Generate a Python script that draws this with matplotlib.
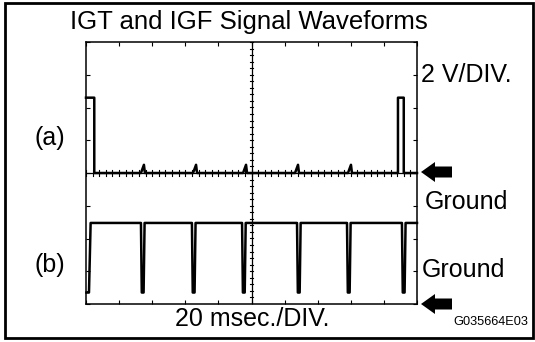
"""IGT / IGF oscilloscope waveform sketch."""

import numpy as np
import matplotlib

matplotlib.use("Agg")
import matplotlib.pyplot as plt
from matplotlib.patches import Rectangle, FancyArrow

plt.rcParams["font.family"] = ["Liberation Sans", "DejaVu Sans"]

W, H = 535, 342

# scope settings: 20 ms/div x 10 div, 2 V/div x 8 div
MS_PER_DIV = 20
V_PER_DIV = 2

# (a) IGT: pulse starts/ends (ms), high level (V), small bumps (ms)
igt_pulse_on = [0.0, 188.5]
igt_pulse_off = [5.0, 192.0]
igt_high = 4.6
igt_bumps = [34.4, 65.9, 96.1, 127.5, 159.5]
igt_bump_h = 0.5

# (b) IGF: dip times (ms), high and low levels (V)
igf_dips = [1.2, 33.2, 64.0, 94.3, 127.5, 157.7, 190.9]
igf_high = 4.95
igf_low = 0.7

# ground positions in divisions (screen is -4..4)
gnd_a = 0.0
gnd_b = -4.0


def igt_trace():
    t, v = [0.0], [igt_high]
    t += [igt_pulse_off[0], igt_pulse_off[0]]
    v += [igt_high, 0.0]
    for b in igt_bumps:
        t += [b - 1.2, b + 0.6, b + 1.2]
        v += [0.0, igt_bump_h, 0.0]
    t += [igt_pulse_on[1], igt_pulse_on[1], igt_pulse_off[1], igt_pulse_off[1], 200.0]
    v += [0.0, igt_high, igt_high, 0.0, 0.0]
    return np.array(t), np.array(v)


def igf_trace():
    t, v = [0.3], [igf_low]
    first = True
    for d in igf_dips:
        if first:
            t += [d, d + 0.6, d + 1.6]
            v += [igf_low, igf_low, igf_high]
            first = False
            continue
        t += [d, d + 0.5, d + 1.6, d + 2.2]
        v += [igf_high, igf_low, igf_low, igf_high]
    t += [200.0]
    v += [igf_high]
    return np.array(t), np.array(v)


fig = plt.figure(figsize=(W / 100, H / 100), dpi=100)
bg = fig.add_axes([0, 0, 1, 1])
bg.set_xlim(0, W)
bg.set_ylim(H, 0)
bg.axis("off")

# outer frame
bg.add_patch(Rectangle((5, 2.5), 528, 335.5, fill=False, lw=2, ec="black"))

# scope screen
x0, y0, x1, y1 = 86, 42, 417, 304
sc = fig.add_axes([x0 / W, 1 - y1 / H, (x1 - x0) / W, (y1 - y0) / H])
sc.set_xlim(0, 10 * MS_PER_DIV)
sc.set_ylim(-4, 4)
for s in sc.spines.values():
    s.set_linewidth(1.1)
sc.set_xticks(np.arange(0, 201, MS_PER_DIV))
sc.set_yticks(np.arange(-4, 5, 1))
sc.tick_params(direction="in", length=3, width=0.8, labelbottom=False,
               labelleft=False, top=True, right=True)
sc.patch.set_alpha(0)

# center graticule with small ticks
sc.axvline(100, color="black", lw=0.9)
sc.axhline(0, color="black", lw=0.9)
for yy in np.arange(-4, 4.01, 0.2):
    sc.plot([98.8, 101.2], [yy, yy], color="black", lw=0.8)
for xx in np.arange(0, 200.1, 4):
    sc.plot([xx, xx], [-0.08, 0.08], color="black", lw=0.8)

ta, va = igt_trace()
sc.plot(ta, gnd_a + va / V_PER_DIV, color="black", lw=1.8, clip_on=False)
tb, vb = igf_trace()
sc.plot(tb, gnd_b + vb / V_PER_DIV, color="black", lw=1.8, clip_on=False)

# ground arrows
for gy in (172, 304):
    bg.add_patch(FancyArrow(452, gy, -31, 0, width=11, head_width=20,
                            head_length=14, length_includes_head=True,
                            fc="black", ec="black", lw=0))

big = 18
bg.text(249, 28.5, "IGT and IGF Signal Waveforms", fontsize=18.5, va="baseline",
        ha="center")
bg.text(421, 82, "2 V/DIV.", fontsize=big, va="baseline")
bg.text(35, 138, "(a)", fontsize=big, va="center")
bg.text(35, 265, "(b)", fontsize=big, va="center")
bg.text(425, 209, "Ground", fontsize=big, va="baseline")
bg.text(422, 277, "Ground", fontsize=big, va="baseline")
bg.text(252, 326, "20 msec./DIV.", fontsize=big, va="baseline", ha="center")
bg.text(453, 325, "G035664E03", fontsize=9.2, va="baseline")

fig.savefig("out.png", dpi=100)
